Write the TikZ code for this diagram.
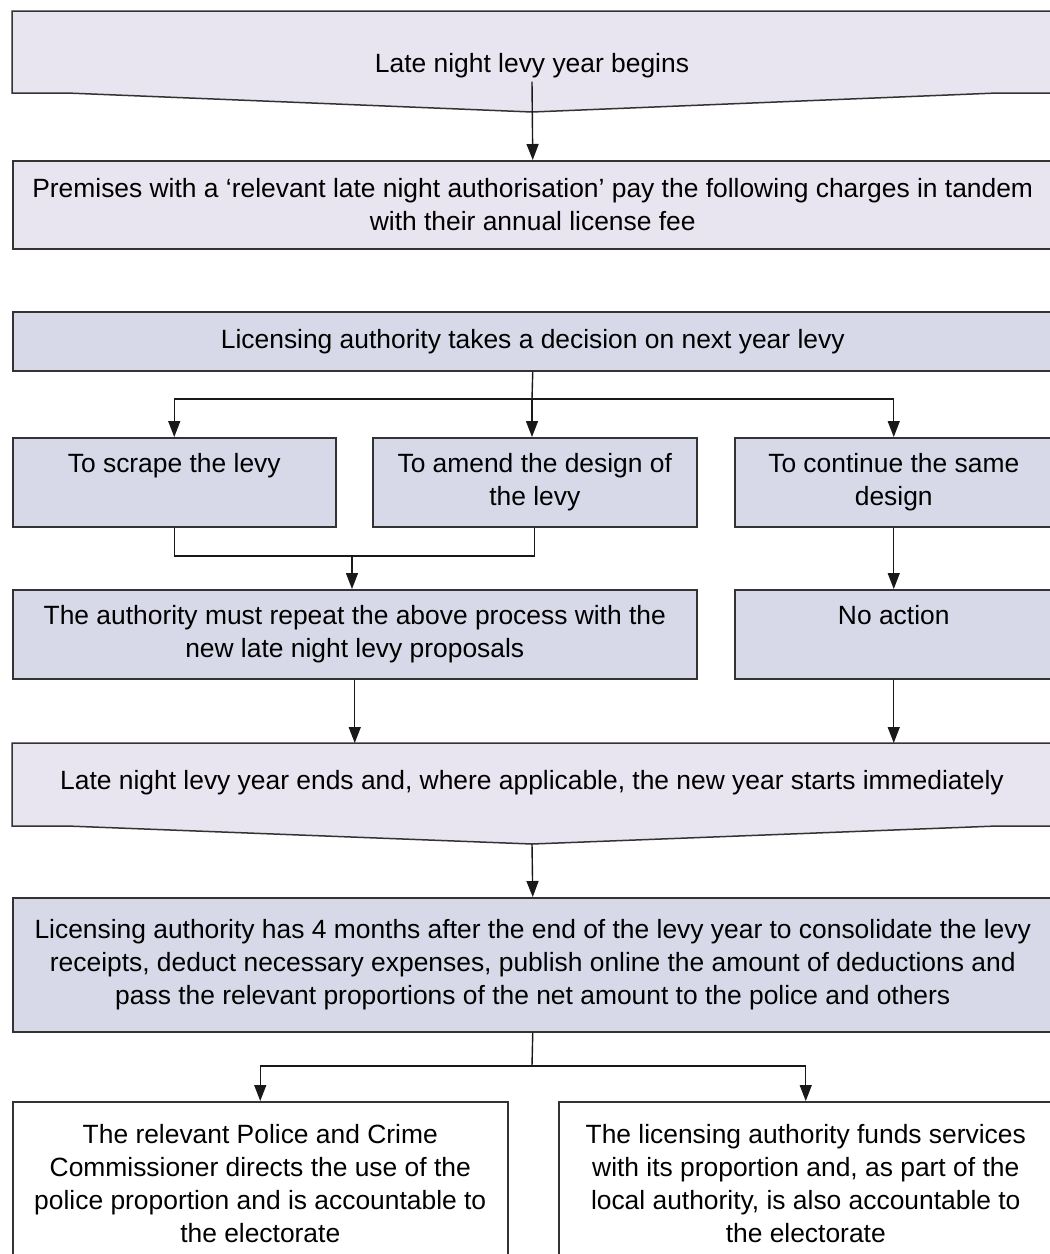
\documentclass[tikz,border=0pt]{standalone}
\usepackage{fontspec}
\setmainfont{Liberation Sans}
\usetikzlibrary{arrows.meta,backgrounds}
\definecolor{lav}{HTML}{E8E4F0}
\definecolor{blu}{HTML}{D7D9E8}
\definecolor{edge}{HTML}{333333}
\newcommand\lfont{\fontsize{26.4}{33}\selectfont}
\begin{document}
\begin{tikzpicture}[x=1pt,y=-1pt,
  box/.style={rectangle, draw=edge, line width=1.5pt, inner sep=0pt, align=center, font=\lfont, anchor=north west},
  txt/.style={inner sep=0pt, align=center, font=\lfont},
  banner/.style={fill=lav, draw=edge, line width=1.5pt},
  conn/.style={draw=black!90, line width=1.4pt},
  arr/.style={conn, -{Triangle[width=12pt,length=16pt]}}
]
\clip (0,0) rectangle (1050,1254);
% banner 1
\filldraw[banner] (12,11) -- (1052,11) -- (1052,93) -- (997,93) -- (532,112) -- (67,93) -- (12,93) -- cycle;
\node[txt, anchor=base, inner ysep=4pt] (b1) at (532,72) {Late night levy year begins};
\node[box, fill=lav, minimum width=1040, minimum height=88] (b2) at (12,160)
  {Premises with a ‘relevant late night authorisation’ pay the following charges in tandem\\with their annual license fee};
\node[box, fill=blu, minimum width=1040, minimum height=59] (b3) at (12,311)
  {Licensing authority takes a decision on next year levy};
\node[box, fill=blu, minimum width=323, minimum height=89] (r4a) at (12,437)
  {To scrape the levy\\\phantom{y}};
\node[box, fill=blu, minimum width=324, minimum height=89] (r4b) at (372,437)
  {To amend the design of\\the levy};
\node[box, fill=blu, minimum width=318, minimum height=89] (r4c) at (734,437)
  {To continue the same\\design};
\node[box, fill=blu, minimum width=684, minimum height=89] (r5a) at (12,589)
  {The authority must repeat the above process with the\\new late night levy proposals};
\node[box, fill=blu, minimum width=318, minimum height=89] (r5b) at (734,589)
  {No action\\\phantom{y}};
% banner 2
\filldraw[banner] (12,743) -- (1052,743) -- (1052,826) -- (997,826) -- (532,844) -- (67,826) -- (12,826) -- cycle;
\coordinate (b6top) at (532,743);
\coordinate (tip6) at (532,844);
\node[txt] (b6) at (532,783) {Late night levy year ends and, where applicable, the new year starts immediately};
\node[box, fill=blu, minimum width=1040, minimum height=134] (b7) at (12,897)
  {Licensing authority has 4 months after the end of the levy year to consolidate the levy\\receipts, deduct necessary expenses, publish online the amount of deductions and\\pass the relevant proportions of the net amount to the police and others};
\node[box, fill=white, minimum width=495, minimum height=163] (b8a) at (12,1101)
  {The relevant Police and Crime\\Commissioner directs the use of the\\police proportion and is accountable to\\the electorate};
\node[box, fill=white, minimum width=494, minimum height=163] (b8b) at (558,1101)
  {The licensing authority funds services\\with its proportion and, as part of the\\local authority, is also accountable to\\the electorate};
% connectors
\draw[arr] (b1.south) -- (b2.north);
\coordinate (s1) at (532,399);
\draw[conn] (b3.south) -- (s1);
\draw[arr] (s1) -| (r4a.north);
\draw[arr] (s1) -| (r4c.north);
\draw[arr] (s1) -- (s1 |- r4b.north);
\coordinate (m1) at (352,556);
\draw[conn] (r4a.south) |- (m1) -| (r4b.south);
\draw[arr] (m1) -- (m1 |- r5a.north);
\draw[arr] (r4c.south) -- (r5b.north);
\draw[arr] (r5a.south) -- (r5a.south |- b6top);
\draw[arr] (r5b.south) -- (r5b.south |- b6top);
\draw[arr] (tip6) -- (b7.north);
\coordinate (s2) at (532,1066);
\draw[conn] (b7.south) -- (s2);
\draw[arr] (s2) -| (b8a.north);
\draw[arr] (s2) -| (b8b.north);
\end{tikzpicture}
\end{document}
